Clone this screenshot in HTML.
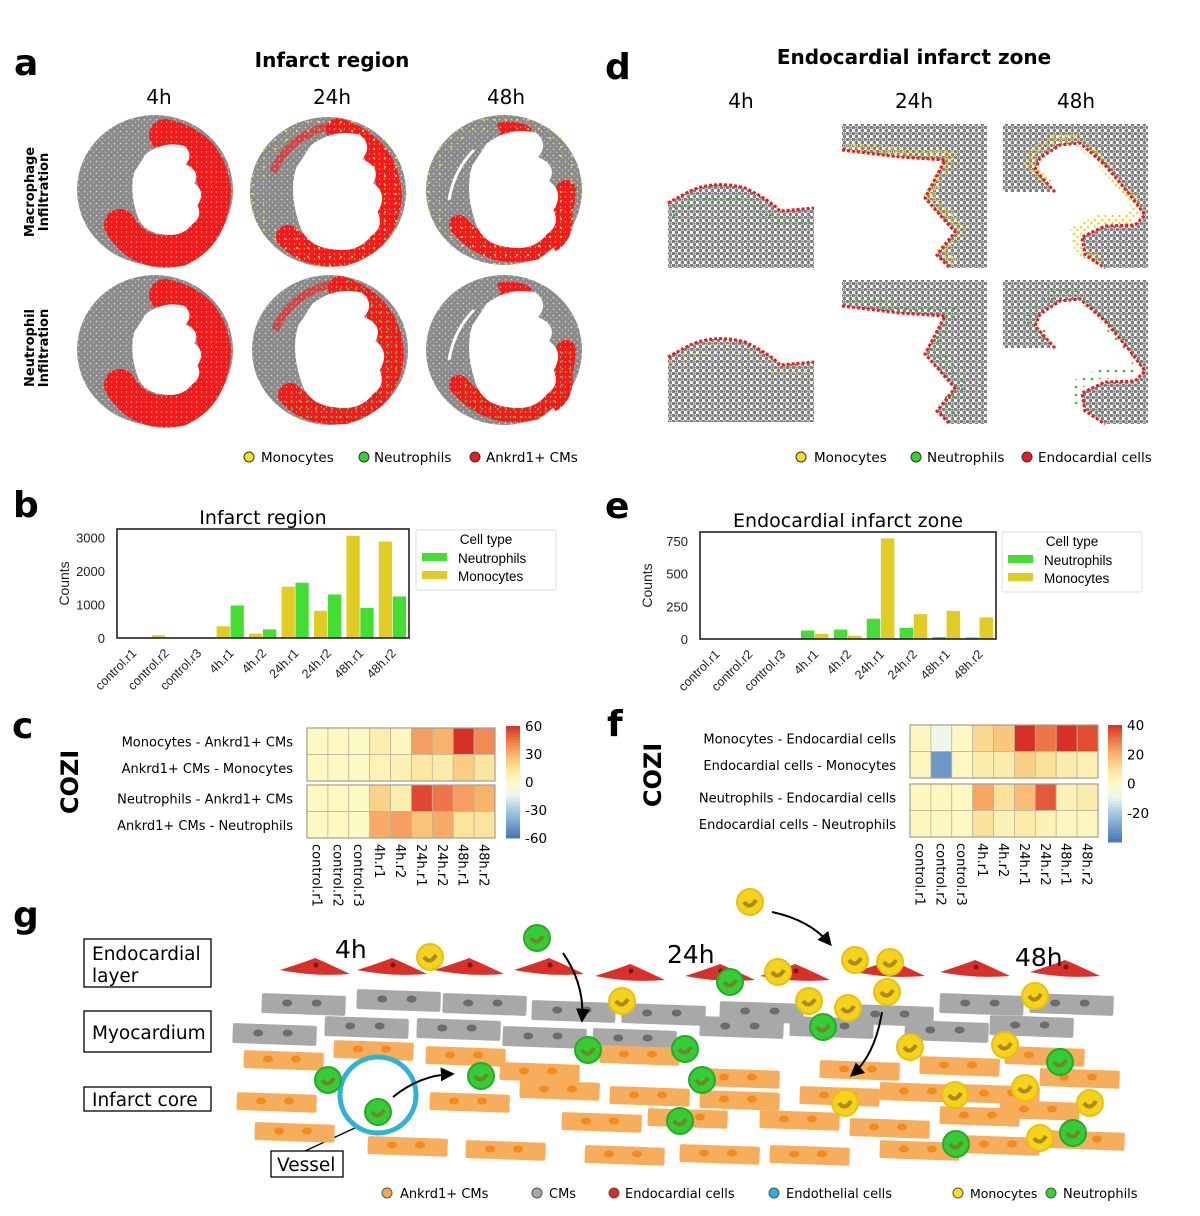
<!DOCTYPE html>
<html><head><meta charset="utf-8"><style>
body{margin:0;background:#fff;}
svg{display:block;font-family:"Liberation Sans",sans-serif;}
.v{font-family:"DejaVu Sans","Liberation Sans",sans-serif;}
</style></head><body>
<svg id="root" width="1200" height="1216" viewBox="0 0 1200 1216" xmlns="http://www.w3.org/2000/svg">
<defs>
<pattern id="speck" width="6" height="6" patternUnits="userSpaceOnUse">
<rect width="6" height="6" fill="#8a8a8a"/><circle cx="1.5" cy="1.5" r="0.9" fill="#d0d0d0"/><circle cx="4.5" cy="4.2" r="0.8" fill="#b8b8b8"/>
</pattern>
<pattern id="redspeck" width="5" height="5" patternUnits="userSpaceOnUse">
<rect width="5" height="5" fill="#f41a1a"/><circle cx="1.5" cy="2" r="0.7" fill="#f7b8b8"/>
</pattern>
<pattern id="ydots" width="7" height="7" patternUnits="userSpaceOnUse">
<circle cx="2" cy="2" r="1.4" fill="#e8e020"/><circle cx="5.5" cy="5" r="1.1" fill="#f0c020"/>
</pattern>
<pattern id="ydots2" width="11" height="9" patternUnits="userSpaceOnUse">
<circle cx="2" cy="2" r="1.1" fill="#e8e020"/>
</pattern>
<pattern id="gdots" width="8" height="8" patternUnits="userSpaceOnUse">
<circle cx="2" cy="3" r="1.3" fill="#30c030"/>
</pattern>
<pattern id="dots" width="6" height="6" patternUnits="userSpaceOnUse">
<rect width="6" height="6" fill="#fff"/><circle cx="1.5" cy="1.5" r="1.8" fill="#7d7d7d"/><circle cx="4.5" cy="4.5" r="1.8" fill="#7d7d7d"/><circle cx="4.5" cy="1.5" r="1.2" fill="#8a8a8a"/>
</pattern>
<marker id="arr" viewBox="0 0 10 10" refX="8" refY="5" markerWidth="7" markerHeight="7" orient="auto"><path d="M0,0L10,5L0,10z" fill="#000"/></marker>
</defs>

<g class="v" font-weight="bold" font-size="36">
<text x="14" y="75">a</text>
<text x="605" y="79">d</text>
<text x="13" y="517">b</text>
<text x="605" y="518">e</text>
<text x="12" y="738">c</text>
<text x="607" y="736">f</text>
<text x="13" y="927">g</text>
</g>

<g class="v">
<text x="332" y="67" font-size="20" font-weight="bold" text-anchor="middle">Infarct region</text>
<text x="159" y="104" font-size="20" text-anchor="middle">4h</text>
<text x="332" y="104" font-size="20" text-anchor="middle">24h</text>
<text x="506" y="104" font-size="20" text-anchor="middle">48h</text>
<text transform="translate(46,192) rotate(-90)" font-size="13" font-weight="bold" text-anchor="middle"><tspan x="0" dy="-12">Macrophage</tspan><tspan x="0" dy="14">Infiltration</tspan></text>
<text transform="translate(46,348) rotate(-90)" font-size="13" font-weight="bold" text-anchor="middle"><tspan x="0" dy="-12">Neutrophil</tspan><tspan x="0" dy="14">Infiltration</tspan></text>
<g id="hearts"></g>
<g font-size="13.5">
<circle cx="249" cy="457" r="5" fill="#f5e21c" stroke="#333"/><text x="261" y="462">Monocytes</text>
<circle cx="364" cy="457" r="5" fill="#35d12e" stroke="#333"/><text x="374" y="462">Neutrophils</text>
<circle cx="475" cy="457" r="5" fill="#ee1c1c" stroke="#333"/><text x="486" y="462">Ankrd1+ CMs</text>
</g>
</g>

<g class="v">
<text x="914" y="64" font-size="20" font-weight="bold" text-anchor="middle">Endocardial infarct zone</text>
<text x="741" y="108" font-size="20" text-anchor="middle">4h</text>
<text x="914" y="108" font-size="20" text-anchor="middle">24h</text>
<text x="1076" y="108" font-size="20" text-anchor="middle">48h</text>
<g id="dimgs"></g>
<g font-size="13.5">
<circle cx="801" cy="457" r="5" fill="#f5e21c" stroke="#333"/><text x="814" y="462">Monocytes</text>
<circle cx="916" cy="457" r="5" fill="#35d12e" stroke="#333"/><text x="927" y="462">Neutrophils</text>
<circle cx="1027" cy="457" r="5" fill="#ee1c1c" stroke="#333"/><text x="1038" y="462">Endocardial cells</text>
</g>
</g>

<g id="barB"></g>
<g id="barE"></g>
<g id="heatC"></g>
<g id="heatF"></g>

<g id="diagram" class="v">
<g fill="none" stroke="#000" stroke-width="1.3">
<rect x="84" y="939" width="127" height="48"/>
<rect x="84" y="1011" width="127" height="41"/>
<rect x="84" y="1087" width="127" height="24"/>
<rect x="271" y="1151" width="72" height="26"/>
<line x1="305" y1="1151" x2="357" y2="1127"/>
</g>
<g font-size="18.5">
<text x="92" y="960">Endocardial</text>
<text x="92" y="982">layer</text>
<text x="92" y="1039">Myocardium</text>
<text x="92" y="1106">Infarct core</text>
<text x="277" y="1171">Vessel</text>
</g>
<g id="cells"></g>
<g font-size="25">
<text x="335" y="958">4h</text>
<text x="667" y="963">24h</text>
<text x="1015" y="966">48h</text>
</g>
<g font-size="13">
<circle cx="387" cy="1193" r="5" fill="#f7a84f" stroke="#555"/><text x="400" y="1198">Ankrd1+ CMs</text>
<circle cx="537" cy="1193" r="5" fill="#a8a8a8" stroke="#555"/><text x="549" y="1198">CMs</text>
<circle cx="614" cy="1193" r="5" fill="#dd2a24" stroke="#555"/><text x="625" y="1198">Endocardial cells</text>
<circle cx="774" cy="1193" r="5" fill="#29b0d8" stroke="#555"/><text x="786" y="1198">Endothelial cells</text>
<circle cx="958" cy="1193" r="5" fill="#f5e21c" stroke="#555"/><text x="970" y="1198" font-size="12.5">Monocytes</text>
<circle cx="1051" cy="1193" r="5" fill="#35d12e" stroke="#555"/><text x="1063" y="1198">Neutrophils</text>
</g>
</g>
</svg>
<script>
// ---- Bar chart data ----
const barCategories = ["control.r1","control.r2","control.r3","4h.r1","4h.r2","24h.r1","24h.r2","48h.r1","48h.r2"];
const infarctMonocytes = [0,80,0,350,130,1530,810,3050,2880];
const infarctNeutrophils = [0,0,0,970,260,1650,1300,900,1240];
const infarctTicks = [0,1000,2000,3000];
const endoNeutrophils = [0,0,0,65,72,155,85,15,12];
const endoMonocytes = [0,0,0,40,25,770,190,215,165];
const endoTicks = [0,250,500,750];
// ---- Heatmap data ----
const heatRowsC = ["Monocytes - Ankrd1+ CMs","Ankrd1+ CMs - Monocytes","Neutrophils - Ankrd1+ CMs","Ankrd1+ CMs - Neutrophils"];
const heatC_r1 = [2,2,1,8,3,35,30,60,40];
const heatC_r2 = [2,2,1,5,6,12,10,22,14];
const heatC_r3 = [2,2,1,20,8,55,45,35,30];
const heatC_r4 = [2,2,1,32,35,25,32,14,14];
const heatTicksC = [60,30,0,-30,-60];
const heatRowsF = ["Monocytes - Endocardial cells","Endocardial cells - Monocytes","Neutrophils - Endocardial cells","Endocardial cells - Neutrophils"];
const heatF_r1 = [2,-8,1,12,16,42,30,40,36];
const heatF_r2 = [2,-32,1,6,6,14,10,6,4];
const heatF_r3 = [2,2,1,22,10,18,34,4,6];
const heatF_r4 = [2,2,1,10,4,6,4,2,2];
const heatTicksF = [40,20,0,-20];

const NS="http://www.w3.org/2000/svg";
function mk(parent,tag,attrs,text){const e=document.createElementNS(NS,tag);for(const k in attrs)e.setAttribute(k,attrs[k]);if(text!==undefined)e.textContent=text;parent.appendChild(e);return e;}

function barChart(g,o){
  const y=v=>o.y0-(v/o.ymax)*(o.y0-o.ytop);
  const bw=(o.x1-o.x0)/barCategories.length;
  const t=mk(g,'text',{x:(o.x0+o.x1)/2,y:o.ytop-5,'font-size':19,'text-anchor':'middle',class:'v'},o.title);
  
  
  const yl=mk(g,'text',{transform:`translate(${o.x0-48},${(o.y0+o.ytop)/2}) rotate(-90)`,'font-size':14,'text-anchor':'middle',fill:'#222'},'Counts');
  
  
  o.ticks.forEach(v=>{
    const tk=mk(g,'text',{x:o.x0-12,y:y(v)+5,'font-size':13,'text-anchor':'end',fill:'#222'},String(v));
    
    
  });
  barCategories.forEach((c,i)=>{
    const cx=o.x0+bw*(i+0.5);
    o.series.forEach((s,j)=>{
      const v=s.vals[i]; if(v<=0)return;
      const r=mk(g,'rect',{x:cx-bw*0.43+j*bw*0.43,y:y(v),width:bw*0.41,height:o.y0-y(v),fill:s.color});
      
      
    });
    const lb=mk(g,'text',{transform:`translate(${cx+4},${o.y0+16}) rotate(-45)`,'font-size':12.5,'text-anchor':'end',fill:'#222'},c);
    
    
  });
  const fr=mk(g,'rect',{x:o.x0,y:o.ytop,width:o.x1-o.x0,height:o.y0-o.ytop,fill:'none',stroke:'#222','stroke-width':1.6});
  
  
  const lg=mk(g,'g',{});
  
  
  mk(lg,'rect',{x:o.lx,y:o.ly,width:140,height:60,fill:'#fff',stroke:'#ddd',rx:2});
  mk(lg,'text',{x:o.lx+70,y:o.ly+14,'font-size':13.5,'text-anchor':'middle'},'Cell type');
  mk(lg,'rect',{x:o.lx+6,y:o.ly+23,width:25,height:8,fill:'#44dd33'});
  mk(lg,'text',{x:o.lx+42,y:o.ly+33,'font-size':13.5},'Neutrophils');
  mk(lg,'rect',{x:o.lx+6,y:o.ly+41,width:25,height:8,fill:'#e0cc22'});
  mk(lg,'text',{x:o.lx+42,y:o.ly+51,'font-size':13.5},'Monocytes');
}
barChart(document.getElementById('barB'),{x0:117,x1:409,y0:638,ytop:529,ymax:3000*(638-529)/(638-537.5),ticks:infarctTicks,title:'Infarct region',lx:416,ly:530,
  series:[{key:'monocytes',vals:infarctMonocytes,color:'#e0cc22'},{key:'neutrophils',vals:infarctNeutrophils,color:'#44dd33'}]});
barChart(document.getElementById('barE'),{x0:700,x1:996,y0:639,ytop:532,ymax:750*(639-532)/(639-541),ticks:endoTicks,title:'Endocardial infarct zone',lx:1002,ly:532,
  series:[{key:'neutrophils',vals:endoNeutrophils,color:'#44dd33'},{key:'monocytes',vals:endoMonocytes,color:'#e0cc22'}]});

function lerp(a,b,t){return a.map((v,i)=>Math.round(v+(b[i]-v)*t));}
const stops=[[-1,[69,117,181]],[-0.5,[166,203,226]],[-0.25,[234,244,240]],[0,[254,252,200]],[0.25,[251,226,154]],[0.5,[248,179,107]],[0.75,[238,117,72]],[1,[215,48,39]]];
function cmap(t){t=Math.max(-1,Math.min(1,t));for(let i=0;i<stops.length-1;i++){if(t<=stops[i+1][0]){const f=(t-stops[i][0])/(stops[i+1][0]-stops[i][0]);return 'rgb('+lerp(stops[i][1],stops[i+1][1],f).join(',')+')';}}return 'rgb(215,48,39)';}

function heatmap(g,o){
  const cw=(o.x1-o.x0)/9;
  const z=mk(g,'text',{transform:`translate(${o.cx},${o.cy}) rotate(-90)`,'font-size':24,'font-weight':'bold','text-anchor':'middle',class:'v'},'COZI');
  
  
  o.rows.forEach((vals,r)=>{
    const ry=o.groupY[Math.floor(r/2)]+(r%2)*o.rh;
    vals.forEach((v,c)=>{
      const cell=mk(g,'rect',{x:o.x0+c*cw,y:ry,width:cw,height:o.rh,fill:cmap(v/o.max),stroke:'#bdb59a','stroke-width':0.8});
      
      
    });
    const lb=mk(g,'text',{x:o.x0-14,y:ry+o.rh/2+5,'font-size':13,'text-anchor':'end',class:'v'},o.labels[r]);
    
    
  });
  o.groupY.forEach(gy=>mk(g,'rect',{x:o.x0,y:gy,width:o.x1-o.x0,height:2*o.rh,fill:'none',stroke:'#a49e88','stroke-width':1.2}));
  barCategories.forEach((c,i)=>{
    const t=mk(g,'text',{transform:`translate(${o.x0+cw*(i+0.5)-5},${o.groupY[1]+2*o.rh+6}) rotate(90)`,'font-size':13,class:'v'},c);
    
    
  });
  const N=40;
  for(let k=0;k<N;k++){
    const v=o.max-(2*o.max)*(k+0.5)/N;
    mk(g,'rect',{x:o.bx,y:o.by0+(o.by1-o.by0)*k/N,width:14,height:(o.by1-o.by0)/N+0.5,fill:cmap(v/o.max)});
  }
  const by=v=>o.by0+(o.max-v)/(2*o.max)*(o.by1-o.by0);
  o.ticks.forEach(v=>{
    const t=mk(g,'text',{x:o.bx+19,y:by(v)+5,'font-size':13.5,class:'v'},String(v));
    
    
  });
}
heatmap(document.getElementById('heatC'),{x0:307,x1:495,groupY:[728,785],rh:26.5,rows:[heatC_r1,heatC_r2,heatC_r3,heatC_r4],labels:heatRowsC,max:60,ticks:heatTicksC,bx:506,by0:726,by1:838,cx:78,cy:782});
heatmap(document.getElementById('heatF'),{x0:910,x1:1098,groupY:[725,784],rh:26.5,rows:[heatF_r1,heatF_r2,heatF_r3,heatF_r4],labels:heatRowsF,max:40,ticks:heatTicksF,bx:1108,by0:725,by1:842,cx:661,cy:775});

// Hearts (illustrative tissue sections)
const H=document.getElementById('hearts');
const hearts=[[155,190,0,0],[328,192,1,0],[504,190,2,0],[155,350,0,1],[330,350,1,1],[504,350,2,1]];
const cav="M-25,-42 Q-5,-58 20,-52 Q32,-42 22,-30 Q40,-22 32,-8 Q46,2 36,18 Q42,32 30,40 Q18,56 -5,52 Q-28,50 -35,30 Q-45,0 -38,-22 Z";
hearts.forEach(h=>{
  const [x,y,col,row]=h;
  const g=mk(H,'g',{transform:`translate(${x},${y})`});
  
  
  mk(g,'ellipse',{cx:0,cy:0,rx:78,ry:75,fill:'url(#speck)'});
  let red;
  if(col===0) red=`M10,-55 Q55,-45 60,0 Q58,45 25,60 Q-15,68 -35,35`;
  else if(col===1) red=`M10,-62 Q60,-45 62,5 Q58,50 15,62 Q-20,65 -40,45`;
  else red=`M-45,35 Q-15,70 30,60 Q60,40 62,0`;
  const sw=col===0?32:(col===1?24:20);
  mk(g,'path',{d:red,fill:'none',stroke:'url(#redspeck)','stroke-width':sw,'stroke-linecap':'round'});
  if(col===1) mk(g,'path',{d:'M-55,-20 Q-40,-55 0,-66',fill:'none',stroke:'url(#redspeck)','stroke-width':8,opacity:0.6});
  if(col===2){ mk(g,'path',{d:'M-5,-60 Q10,-64 25,-56',fill:'none',stroke:'url(#redspeck)','stroke-width':14});
    mk(g,'path',{d:'M52,10 Q62,40 45,50',fill:'none',stroke:'url(#redspeck)','stroke-width':26});}
  if(row===0&&col>0){ mk(g,'ellipse',{cx:0,cy:0,rx:72,ry:69,fill:'none',stroke:'url(#ydots2)','stroke-width':14});
    mk(g,'path',{d:red,fill:'none',stroke:'url(#ydots2)','stroke-width':sw});}
  if(row===1&&col>0) mk(g,'path',{d:red,fill:'none',stroke:'url(#gdots)','stroke-width':sw});
  const sc=col===0?0.85:1.1, ox=col===0?12:10;
  mk(g,'path',{d:cav,fill:'#fff',transform:`translate(${ox},0) scale(${sc})`});
  if(col===2) mk(g,'path',{d:'M-55,10 Q-50,-20 -30,-40',fill:'none',stroke:'#fff','stroke-width':3});
});

// Panel d images
const D=document.getElementById('dimgs');
function dimg(name,gray,edge,accent,accentShift){
  const g=mk(D,'g',{});
  
  
  mk(g,'path',{d:gray,fill:'url(#dots)'});
  if(accent) mk(g,'path',{d:edge,fill:'none',stroke:accent,'stroke-width':10,transform:`translate(${accentShift[0]},${accentShift[1]})`});
  mk(g,'path',{d:edge,fill:'none',stroke:'#e81c1c','stroke-width':3,'stroke-dasharray':'3 2'});
}
function d4(oy){const e='M668,'+(203+oy)+' L690,'+(191+oy)+' Q715,'+(180+oy)+' 745,'+(188+oy)+' Q770,'+(200+oy)+' 780,'+(211+oy)+' L814,'+(208+oy);
  return [e+' L814,'+(268+oy)+' L668,'+(268+oy)+'Z',e];}
function d24(oy){const e=`M842,${150+oy} L900,${157+oy} L945,${160+oy} L925,${198+oy} L955,${232+oy} L937,${255+oy} L950,${268+oy}`;
  return [`M842,${124+oy} L987,${124+oy} L987,${268+oy} L950,${268+oy} L937,${255+oy} L955,${232+oy} L925,${198+oy} L945,${160+oy} L900,${157+oy} L842,${150+oy}Z`,e];}
function d48(oy){const e=`M1055,${192+oy} L1035,${170+oy} L1040,${158+oy} L1060,${145+oy} L1080,${143+oy} L1105,${165+oy} L1130,${195+oy} L1145,${215+oy} L1135,${225+oy} L1105,${226+oy} L1082,${237+oy} L1085,${255+oy} L1105,${268+oy}`;
  return [`M1003,${124+oy} L1148,${124+oy} L1148,${268+oy} L1105,${268+oy} L1085,${255+oy} L1082,${237+oy} L1105,${226+oy} L1135,${225+oy} L1145,${215+oy} L1130,${195+oy} L1105,${165+oy} L1080,${143+oy} L1060,${145+oy} L1040,${158+oy} L1035,${170+oy} L1055,${192+oy} L1003,${192+oy}Z`,e];}
let p;
p=d4(0);dimg('endocardial-image-4h-mac',p[0],p[1],'url(#gdots)',[0,12]);
p=d24(0);dimg('endocardial-image-24h-mac',p[0],p[1],'url(#ydots)',[5,-4]);
p=d48(0);dimg('endocardial-image-48h-mac',p[0],p[1],'url(#ydots)',[-6,-6]);
p=d4(154);dimg('endocardial-image-4h-neu',p[0],p[1],'url(#ydots2)',[0,10]);
p=d24(156);dimg('endocardial-image-24h-neu',p[0],p[1],'url(#gdots)',[8,-6]);
p=d48(156);dimg('endocardial-image-48h-neu',p[0],p[1],'url(#gdots)',[-6,-8]);

// Diagram cells (illustrative)
const C=document.getElementById('cells');
function cm(x,y,w,h,fill,nuc){
  const g=mk(C,'g',{});
  
  
  mk(g,'rect',{x:x,y:y,width:w,height:h,fill:fill,rx:2,transform:`rotate(2 ${x} ${y})`});
  mk(g,'ellipse',{cx:x+w*0.3,cy:y+h/2,rx:5,ry:3.5,fill:nuc});
  mk(g,'ellipse',{cx:x+w*0.65,cy:y+h/2,rx:5,ry:3.5,fill:nuc});
}
const redX=[280,357,434,514,595,685,760,855,940,1030];
redX.forEach((x,i)=>{const y=970+(i>3&&i<7?6:0)+(i>6?2:0);
  const g=mk(C,'path',{d:`M${x},${y} Q${x+25},${y-8} ${x+35},${y-12} Q${x+45},${y-8} ${x+70},${y+4} Q${x+35},${y+7} ${x},${y}Z`,fill:'#d9302a'});
  
  
  mk(C,'circle',{cx:x+36,cy:y-5,r:2.5,fill:'#7a1515'});});
[[262,993],[357,989],[443,993],[532,1000],[622,1003],[720,1001],[850,1004],[940,993],[1030,993]].forEach(p=>cm(p[0],p[1],84,20,'#a8a8a8','#6c6c6c'));
[[233,1023],[325,1016],[417,1018],[503,1026],[593,1028],[700,1016],[790,1016],[905,1020],[990,1015]].forEach(p=>cm(p[0],p[1],84,20,'#a8a8a8','#6c6c6c'));
const orng=[[244,1050],[334,1040],[426,1046],[500,1062],[600,1045],[700,1068],[820,1060],[920,1056],[1005,1046],
 [237,1092],[430,1092],[520,1080],[610,1086],[700,1090],[800,1086],[880,1082],[960,1084],[1040,1068],
 [255,1122],[368,1136],[466,1140],[562,1112],[648,1108],[760,1110],[850,1118],[940,1106],[1000,1100],
 [585,1145],[680,1144],[770,1145],[880,1140],[960,1135],[1045,1130]];
orng.forEach(p=>cm(p[0],p[1],80,18,'#f7ae5c','#f28a1e'));
mk(C,'circle',{cx:378,cy:1095,r:38,fill:'#fff',stroke:'#2fb2d6','stroke-width':5});
function blob(x,y,col,edge){const g=mk(C,'g',{});
  
  
  mk(g,'circle',{cx:x,cy:y,r:13,fill:col,stroke:edge,'stroke-width':2});
  mk(g,'path',{d:`M${x-6},${y} Q${x},${y+8} ${x+6},${y-2}`,fill:'none',stroke:'#8a6a20','stroke-width':4,opacity:0.7});}
const G='#35cc35',GE='#2aa82a',Y='#f5d21c',YE='#e8c010';
[[537,938],[328,1080],[378,1112],[481,1076],[588,1050],[685,1049],[702,1080],[730,982],[680,1121],[823,1027],[1060,1062],[956,1144],[1073,1133]].forEach(p=>blob(p[0],p[1],G,GE));
[[430,957],[622,1001],[750,902],[778,972],[809,1001],[855,960],[890,962],[887,992],[848,1008],[1035,996],[910,1047],[1005,1045],[955,1095],[1025,1088],[1090,1103],[845,1103],[1040,1138]].forEach(p=>blob(p[0],p[1],Y,YE));
mk(C,'path',{d:'M563,953 Q585,985 582,1020',fill:'none',stroke:'#000','stroke-width':2,'marker-end':'url(#arr)'});
mk(C,'path',{d:'M772,912 Q810,920 830,944',fill:'none',stroke:'#000','stroke-width':2,'marker-end':'url(#arr)'});
mk(C,'path',{d:'M882,1012 Q875,1055 852,1075',fill:'none',stroke:'#000','stroke-width':2,'marker-end':'url(#arr)'});
mk(C,'path',{d:'M393,1097 Q420,1075 452,1074',fill:'none',stroke:'#000','stroke-width':2,'marker-end':'url(#arr)'});
</script>
</body></html>
